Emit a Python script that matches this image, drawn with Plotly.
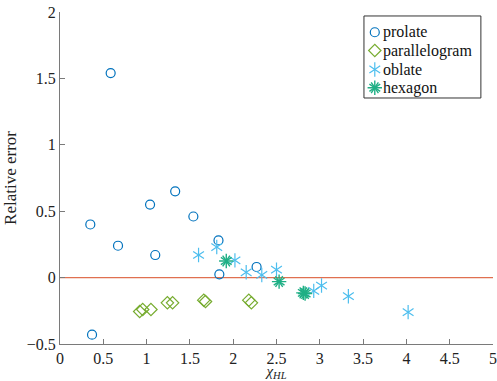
import plotly.graph_objects as go

# ---------------- data ----------------
prolate_x = [0.585, 0.35, 0.67, 1.04, 1.10, 1.33, 1.54, 1.83, 1.84, 2.27, 0.37]
prolate_y = [1.54, 0.40, 0.24, 0.55, 0.17, 0.65, 0.46, 0.28, 0.025, 0.08, -0.43]

para_x = [0.92, 0.955, 1.05, 1.24, 1.30, 1.66, 1.68, 2.18, 2.21]
para_y = [-0.255, -0.24, -0.24, -0.19, -0.19, -0.17, -0.18, -0.17, -0.19]

oblate_x = [1.60, 1.81, 2.02, 2.15, 2.33, 2.50, 2.93, 3.02, 3.33, 4.02]
oblate_y = [0.17, 0.23, 0.13, 0.04, 0.02, 0.06, -0.10, -0.06, -0.14, -0.26]

hex_x = [1.92, 2.53, 2.81, 2.83]
hex_y = [0.125, -0.03, -0.115, -0.12]

ref_x = [0, 5]
ref_y = [0, 0]

series_names = ["prolate", "parallelogram", "oblate", "hexagon"]
x_ticks = [0, 0.5, 1, 1.5, 2, 2.5, 3, 3.5, 4, 4.5, 5]
x_tick_labels = ["0", "0.5", "1", "1.5", "2", "2.5", "3", "3.5", "4", "4.5", "5"]
y_ticks = [-0.5, 0, 0.5, 1, 1.5, 2]
y_tick_labels = ["\u22120.5", "0", "0.5", "1", "1.5", "2"]

# ---------------- styles ----------------
FONT = "Liberation Serif, DejaVu Serif, serif"
C_PRO = "#0072BD"
C_PAR = "#77AC30"
C_OBL = "#4DBEEE"
C_HEX = "#1FAF85"
C_REF = "#E07050"
AX = "#7a7a7a"

# marker layers per series: list of (symbol, angle, size, linewidth)
styles = {
    "prolate": (C_PRO, [("circle-open", 0, 9, 1.2)]),
    "parallelogram": (C_PAR, [("diamond-open", 0, 9.5, 1.2)]),
    "oblate": (C_OBL, [("y-up-open", 0, 9, 1.2), ("y-down-open", 0, 9, 1.2)]),
    "hexagon": (C_HEX, [("y-up-open", 0, 9, 1.4), ("y-down-open", 0, 9, 1.4),
                        ("y-up-open", 90, 9, 1.4), ("y-down-open", 90, 9, 1.4)]),
}

fig = go.Figure()
fig.add_trace(go.Scatter(x=ref_x, y=ref_y, mode="lines", line=dict(color=C_REF, width=1.1),
                         showlegend=False, hoverinfo="skip"))


def add_series(xs, ys, name, xaxis="x", yaxis="y"):
    color, layers = styles[name]
    for sym, ang, size, lw in layers:
        fig.add_trace(go.Scatter(x=xs, y=ys, mode="markers", name=name, showlegend=False,
                                 xaxis=xaxis, yaxis=yaxis, cliponaxis=False,
                                 marker=dict(symbol=sym, angle=ang, size=size, color=color,
                                             line=dict(width=lw, color=color))))


add_series(prolate_x, prolate_y, "prolate")
add_series(para_x, para_y, "parallelogram")
add_series(oblate_x, oblate_y, "oblate")
add_series(hex_x, hex_y, "hexagon")

# ---------------- legend (drawn in an overlay unit axis) ----------------
leg_left, leg_right, leg_top, leg_bottom = 0.702, 0.972, 0.988, 0.741
leg_sym_x, leg_text_x = 0.727, 0.741
leg_rows = [0.939, 0.884, 0.827, 0.772]
for name, ry in zip(series_names, leg_rows):
    add_series([leg_sym_x], [ry], name, xaxis="x2", yaxis="y2")
    fig.add_annotation(x=leg_text_x, y=ry, xref="paper", yref="paper", text=name,
                       showarrow=False, xanchor="left", yanchor="middle",
                       font=dict(family=FONT, size=16, color="#111111"))
fig.add_shape(type="rect", xref="paper", yref="paper", x0=leg_left, x1=leg_right,
              y0=leg_bottom, y1=leg_top, line=dict(color="#333333", width=1), fillcolor="rgba(0,0,0,0)",
              layer="below")

fig.update_layout(
    width=497, height=381,
    margin=dict(l=60, r=4, t=12, b=37, autoexpand=False),
    paper_bgcolor="white", plot_bgcolor="white",
    font=dict(family=FONT, size=16, color="#222222"),
    showlegend=False,
    hovermode=False,
    xaxis=dict(range=[0, 5], tickvals=x_ticks, ticktext=x_tick_labels,
               showgrid=False, zeroline=False, showline=True, linecolor=AX, linewidth=1,
               ticks="inside", ticklen=5, tickcolor=AX, automargin=False,
               ticklabeloverflow="allow",
               tickfont=dict(size=16, color="#222222"),
               title=dict(text="<i>χ</i><sub><i>HL</i></sub>", standoff=1, font=dict(size=15))),
    yaxis=dict(range=[-0.5, 2], tickvals=y_ticks, ticktext=y_tick_labels,
               showgrid=False, zeroline=False, showline=True, linecolor=AX, linewidth=1,
               ticks="inside", ticklen=5, tickcolor=AX, automargin=False,
               ticklabeloverflow="allow",
               tickfont=dict(size=16, color="#222222"),
               title=dict(text="Relative error", standoff=5, font=dict(size=17))),
    xaxis2=dict(range=[0, 1], overlaying="x", visible=False, fixedrange=True),
    yaxis2=dict(range=[0, 1], overlaying="y", visible=False, fixedrange=True),
)

# remove the page's default 8px body margin so the figure fills the window exactly
fig.write_html("out.html", config={"displayModeBar": False, "staticPlot": True},
               post_script="document.body.style.margin='0';document.body.style.overflow='hidden';")
